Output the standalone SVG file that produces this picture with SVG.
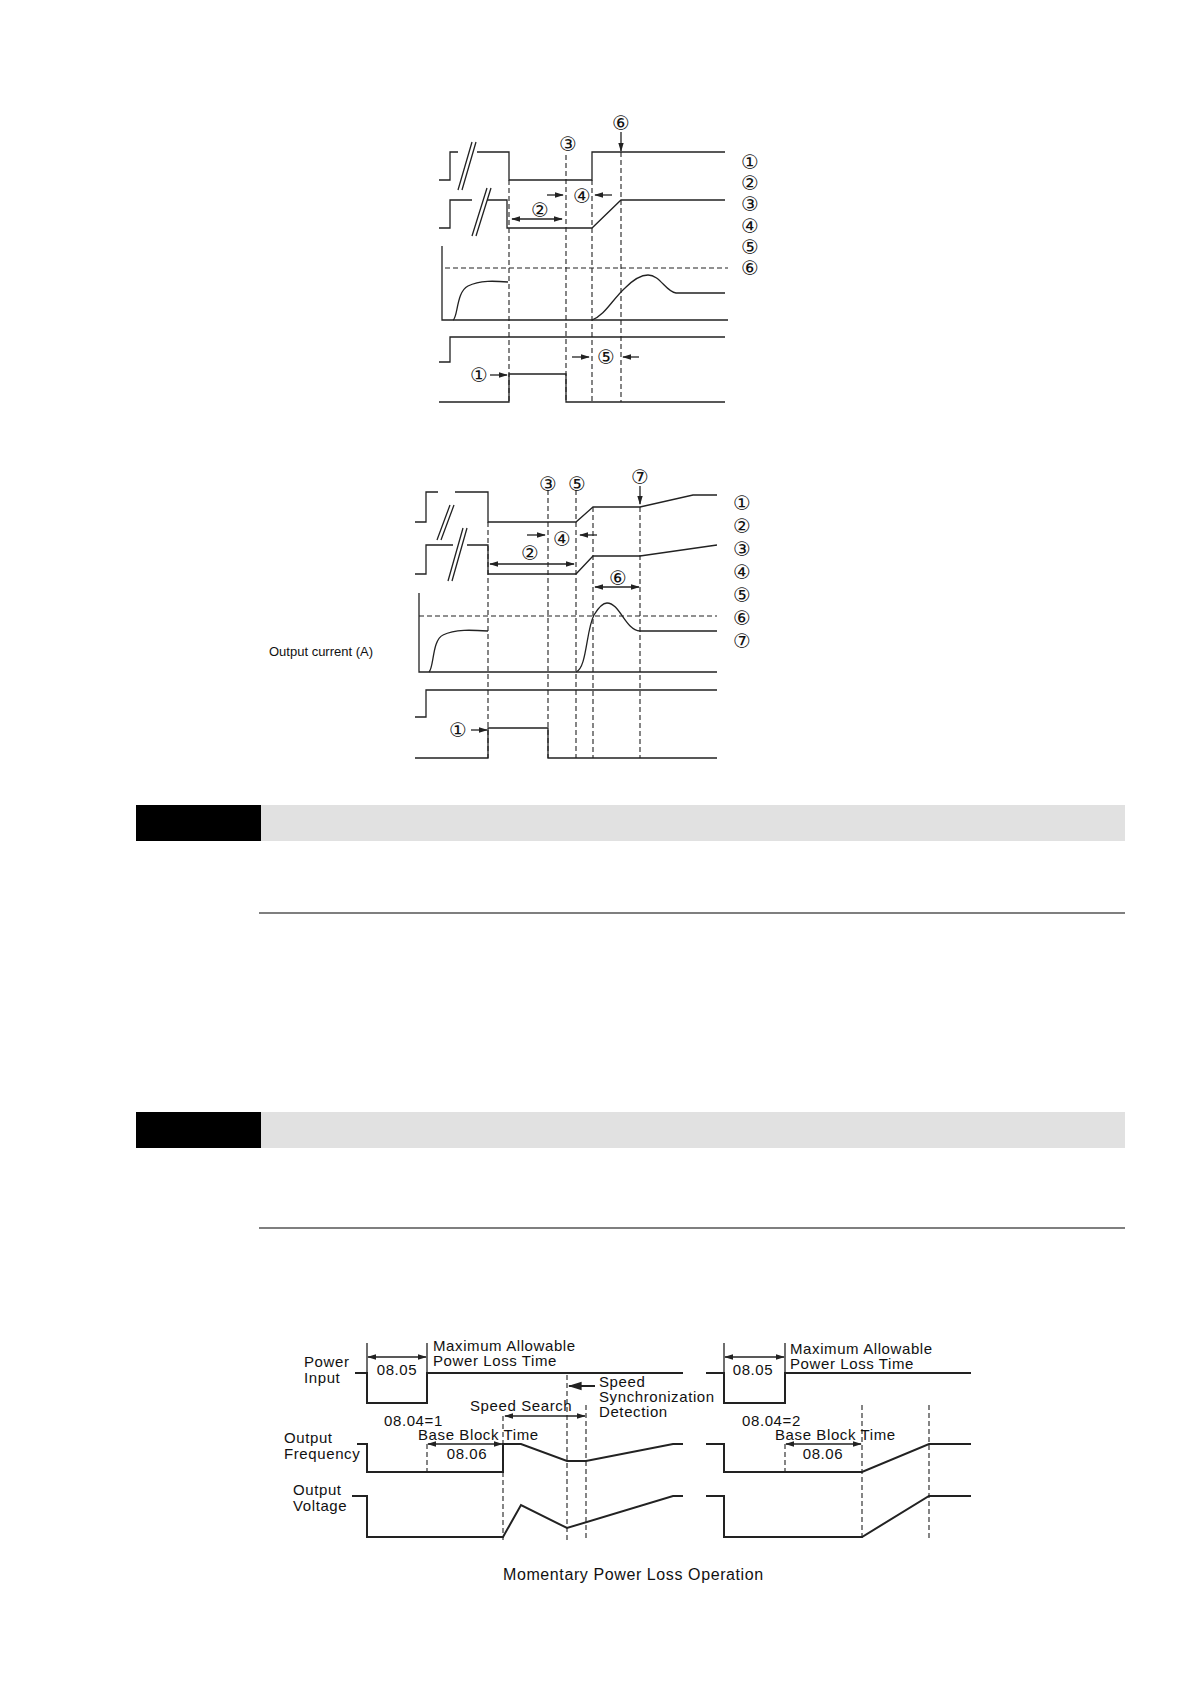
<svg xmlns="http://www.w3.org/2000/svg" width="1191" height="1684" viewBox="0 0 1191 1684">
<style>
.s{fill:none;stroke:#222;stroke-width:1.3}
.t{fill:none;stroke:#222;stroke-width:2}
.d{fill:none;stroke:#222;stroke-width:1.1;stroke-dasharray:5,3}
.c{font-family:"DejaVu Sans",sans-serif;font-size:20px;fill:#111;text-anchor:middle;dominant-baseline:central}
.l{font-family:"Liberation Sans",Arial,sans-serif;font-size:15px;letter-spacing:0.6px;fill:#111}
.m{font-family:"Liberation Sans",Arial,sans-serif;font-size:15px;letter-spacing:0.6px;fill:#111;text-anchor:middle}
</style>
<defs>
<marker id="a" viewBox="0 0 10 10" refX="9" refY="5" markerWidth="7" markerHeight="7" orient="auto-start-reverse"><path d="M0,2L10,5L0,8z" fill="#222"/></marker>
</defs>
<rect width="1191" height="1684" fill="#fff"/>
<g id="diagram1">
<path class="s" d="M439,180H450V152H458M477,152H509V180H592V152H725"/>
<path class="s" d="M458,190L472,142M462,190L476,142"/>
<path class="s" d="M439,228H450V200H472M487,200H507V228H592L621,200H725"/>
<path class="s" d="M472,236L487,188M476,236L491,188"/>
<path class="s" d="M442,246V320H728"/>
<path class="d" d="M445,268H728"/>
<path class="s" d="M453,320C458,318 456,292 468,286C480,280 495,281 508,282"/>
<path class="s" d="M592,320C605,315 612,300 625,288C635,278 642,275 648,275C660,275 666,292 676,293H725"/>
<path class="s" d="M439,362H450V337H725"/>
<path class="s" d="M439,402H509V374H566V402H725"/>
<path class="d" d="M509,180V402M566,155V402M592,180V402M621,152V402"/>
</g>
<g id="connectors1">
<path class="s" d="M621,132V151" marker-end="url(#a)"/>
<path class="s" d="M547,195H563" marker-end="url(#a)"/>
<path class="s" d="M612,195H595" marker-end="url(#a)"/>
<path class="s" d="M512,219H562" marker-start="url(#a)" marker-end="url(#a)"/>
<path class="s" d="M572,357H589" marker-end="url(#a)"/>
<path class="s" d="M639,357H623" marker-end="url(#a)"/>
<path class="s" d="M490,375H507" marker-end="url(#a)"/>
</g>
<g id="labels1">
<text class="c" x="568" y="144">③</text><text class="c" x="621" y="123">⑥</text>
<text class="c" x="582" y="196">④</text><text class="c" x="540" y="210">②</text>
<text class="c" x="606" y="357">⑤</text><text class="c" x="479" y="375">①</text>
<text class="c" x="750" y="162">①</text><text class="c" x="750" y="183">②</text><text class="c" x="750" y="204">③</text>
<text class="c" x="750" y="226">④</text><text class="c" x="750" y="247">⑤</text><text class="c" x="750" y="268">⑥</text>
</g>
<g id="diagram2">
<path class="s" d="M415,522H426V492H438M455,492H488V522H576L593,507H640L693,495H717"/>
<path class="s" d="M437,540L450,505M441,540L454,505"/>
<path class="s" d="M415,574H426V545H453M467,545H488V574H576L593,556H640L717,545"/>
<path class="s" d="M448,581L463,528M452,581L467,528"/>
<path class="s" d="M419,593V672H717"/>
<path class="d" d="M419,616H717"/>
<path class="s" d="M429,672C434,668 432,640 443,635C455,629 472,630 488,631"/>
<path class="s" d="M576,672C587,668 586,630 594,615C600,605 604,603 607,603C620,603 625,630 640,631H717"/>
<path class="s" d="M415,717H426V690H717"/>
<path class="s" d="M415,758H488V728H548V758H717"/>
<path class="d" d="M488,522V758M548,490V758M576,490V758M593,507V758M640,507V758"/>
<text class="l" x="269" y="656" style="font-size:13px;letter-spacing:0">Output current (A)</text>
</g>
<g id="connectors2">
<path class="s" d="M640,486V504" marker-end="url(#a)"/>
<path class="s" d="M527,535H545" marker-end="url(#a)"/>
<path class="s" d="M597,535H580" marker-end="url(#a)"/>
<path class="s" d="M490,564H574" marker-start="url(#a)" marker-end="url(#a)"/>
<path class="s" d="M595,587H639" marker-start="url(#a)" marker-end="url(#a)"/>
<path class="s" d="M471,730H487" marker-end="url(#a)"/>
</g>
<g id="labels2">
<text class="c" x="548" y="484">③</text><text class="c" x="577" y="484">⑤</text><text class="c" x="640" y="477">⑦</text>
<text class="c" x="562" y="539">④</text><text class="c" x="530" y="553">②</text><text class="c" x="618" y="578">⑥</text>
<text class="c" x="458" y="730">①</text>
<text class="c" x="742" y="503">①</text><text class="c" x="742" y="526">②</text><text class="c" x="742" y="549">③</text>
<text class="c" x="742" y="572">④</text><text class="c" x="742" y="595">⑤</text><text class="c" x="742" y="618">⑥</text><text class="c" x="742" y="641">⑦</text>
</g>
<g id="headers">
<rect x="136" y="805" width="125" height="36" fill="#000"/>
<rect x="261" y="805" width="864" height="36" fill="#e1e1e1"/>
<path d="M259,913H1125" stroke="#000" stroke-width="1.2"/>
<rect x="136" y="1112" width="125" height="36" fill="#000"/>
<rect x="261" y="1112" width="864" height="36" fill="#e1e1e1"/>
<path d="M259,1228H1125" stroke="#000" stroke-width="1.2"/>
</g>
<g id="diagram3">
<path class="t" d="M355,1373H367V1403H427V1373H683"/>
<path class="s" d="M367,1343V1373M427,1343V1373"/>
<path class="t" d="M357,1444H367V1472H503V1444H521L567,1461H586L673,1444H683"/>
<path class="d" d="M427,1444V1472"/>
<path class="t" d="M352,1496H367V1537H503L521,1505L567,1528L673,1496H683"/>
<path class="d" d="M567,1375V1540M586,1405V1540M503,1416V1540"/>
<path class="t" d="M706,1373H724V1403H785V1373H971"/>
<path class="s" d="M724,1343V1373M785,1343V1373"/>
<path class="t" d="M706,1444H724V1472H862L929,1444H971"/>
<path class="d" d="M785,1444V1472"/>
<path class="t" d="M706,1496H724V1537H862L929,1496H971"/>
<path class="d" d="M862,1405V1540M929,1405V1540"/>
</g>
<g id="connectors3">
<path class="s" d="M368,1357H426" marker-start="url(#a)" marker-end="url(#a)"/>
<path class="t" d="M595,1386H569" marker-end="url(#a)"/>
<path class="s" d="M505,1416H585" marker-start="url(#a)" marker-end="url(#a)"/>
<path class="s" d="M428,1444H502" marker-start="url(#a)" marker-end="url(#a)"/>
<path class="s" d="M725,1357H784" marker-start="url(#a)" marker-end="url(#a)"/>
<path class="s" d="M786,1444H861" marker-start="url(#a)" marker-end="url(#a)"/>
</g>
<g id="labels3">
<text class="l" x="304" y="1367">Power</text><text class="l" x="304" y="1383">Input</text>
<text class="m" x="397" y="1375">08.05</text>
<text class="l" x="433" y="1351">Maximum Allowable</text><text class="l" x="433" y="1366">Power Loss Time</text>
<text class="l" x="599" y="1387">Speed</text><text class="l" x="599" y="1402">Synchronization</text><text class="l" x="599" y="1417">Detection</text>
<text class="l" x="470" y="1411">Speed Search</text>
<text class="l" x="384" y="1426">08.04=1</text><text class="l" x="418" y="1440">Base Block Time</text>
<text class="m" x="467" y="1459">08.06</text>
<text class="l" x="284" y="1443">Output</text><text class="l" x="284" y="1459">Frequency</text>
<text class="l" x="293" y="1495">Output</text><text class="l" x="293" y="1511">Voltage</text>
<text class="m" x="753" y="1375">08.05</text>
<text class="l" x="790" y="1354">Maximum Allowable</text><text class="l" x="790" y="1369">Power Loss Time</text>
<text class="l" x="742" y="1426">08.04=2</text><text class="l" x="775" y="1440">Base Block Time</text>
<text class="m" x="823" y="1459">08.06</text>
<text class="l" x="503" y="1580" style="font-size:16px">Momentary Power Loss Operation</text>
</g>
</svg>
